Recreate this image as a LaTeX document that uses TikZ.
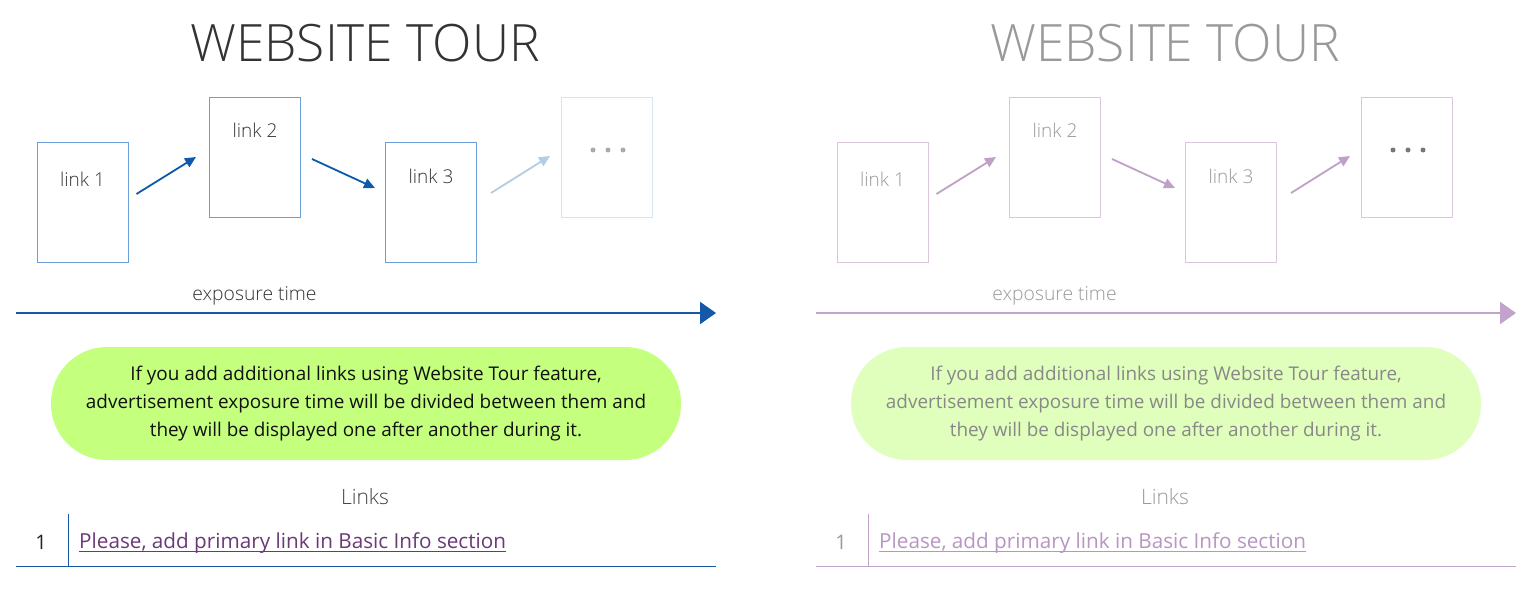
\documentclass[tikz,border=0pt]{standalone}
\usepackage{fontspec}
\setmainfont{Open Sans}
\newfontfamily\lightfont{Open Sans Light}
\usetikzlibrary{arrows.meta}

\tikzset{
  x=1pt, y=-1pt,
  ttl/.style={font=\lightfont\fontsize{51.5}{52}\selectfont, text=cTitle, anchor=base, inner sep=0pt},
  linkbox/.style={draw=cBox, line width=1pt, minimum width=91pt, minimum height=120pt, inner sep=0pt},
  dotsbox/.style={draw=cDotsBox, line width=1pt, minimum width=91pt, minimum height=120pt, inner sep=0pt},
  boxlbl/.style={font=\lightfont\fontsize{19}{19}\selectfont, text=cLbl, anchor=base, inner sep=0pt},
  stepArrow/.style={draw=cArr, line width=1.8pt, -{Triangle[length=11pt,width=10pt]}},
  faintArrow/.style={draw=cArr3, line width=1.8pt, -{Triangle[length=11pt,width=10pt]}},
  timeArrow/.style={draw=cTime, line width=2.2pt, -{Triangle[length=16pt,width=22pt]}},
  timelbl/.style={font=\lightfont\fontsize{19.3}{19}\selectfont, text=cLbl, anchor=base, inner sep=0pt},
  greenbox/.style={fill=cGreen, rounded corners=56pt, minimum width=630pt, minimum height=113pt,
     align=center, font=\fontsize{18.9}{28}\selectfont, text=cGText, inner sep=0pt},
  linkshead/.style={font=\lightfont\fontsize{21}{21}\selectfont, text=cLinks, anchor=base, inner sep=0pt},
  rownum/.style={font=\fontsize{20}{20}\selectfont, text=cNum, anchor=base, inner sep=0pt},
  rowlink/.style={font=\fontsize{20.7}{20}\selectfont, text=cLink, anchor=base west, inner sep=0pt},
  tableline/.style={draw=cTime, line width=1pt},
  dotmark/.style={circle, fill=cDots, minimum size=5pt, inner sep=0pt}
}

\newcommand\tourpanel[2]{%
\begin{scope}[shift={(#2,0)}]
  \node[ttl] (#1title) at (365,62) {WEBSITE TOUR};
  \node[linkbox] (#1b1) at (82.5,202) {};
  \node[linkbox] (#1b2) at (255,157) {};
  \node[linkbox] (#1b3) at (431,202) {};
  \node[dotsbox] (#1b4) at (607,157) {};
  \node[boxlbl] (#1l1) at ([yshift=-45pt]#1b1.north) {link 1};
  \node[boxlbl] (#1l2) at ([yshift=-41pt]#1b2.north) {link 2};
  \node[boxlbl] (#1l3) at ([yshift=-42pt]#1b3.north) {link 3};
  \node[dotmark] (#1d1) at (593,150) {};
  \node[dotmark] (#1d2) at (608,150) {};
  \node[dotmark] (#1d3) at (623,150) {};
  \draw[stepArrow] ([xshift=8pt,yshift=8pt]#1b1.east) -- ([xshift=-13pt]#1b2.west);
  \draw[stepArrow] ([xshift=11pt,yshift=-2pt]#1b2.east) -- ([xshift=-10pt,yshift=14pt]#1b3.west);
  \draw[faintArrow] ([xshift=14pt,yshift=9pt]#1b3.east) -- ([xshift=-11pt,yshift=1pt]#1b4.west);
  \node[timelbl] (#1tl) at (254.5,300) {exposure time};
  \coordinate (#1t0) at (16,313);
  \coordinate (#1t1) at (716,313);
  \draw[timeArrow] (#1t0) -- (#1t1);
  \node[greenbox] (#1g) at (366,403.5) {If you add additional links using Website Tour feature,\\advertisement exposure time will be divided between them and\\they will be displayed one after another during it.};
  \node[linkshead] (#1lh) at (365,504) {Links};
  \node[rownum] (#1n) at (41,549) {1};
  \node[rowlink] (#1lk) at (79,548) {Please, add primary link in Basic Info section};
  \draw[draw=cLink, line width=1pt] ([yshift=-3.5pt]#1lk.base west) -- ([yshift=-3.5pt]#1lk.base east);
  \coordinate (#1v0) at (68,514);
  \coordinate (#1v1) at (68,566);
  \coordinate (#1h0) at (16,566);
  \coordinate (#1h1) at (716,566);
  \draw[tableline] (#1v0) -- (#1v1);
  \draw[tableline] (#1h0) -- (#1h1);
\end{scope}}

\begin{document}
\begin{tikzpicture}
\useasboundingbox[fill=white] (0,0) rectangle (1536,594);
{%
  \definecolor{cTitle}{HTML}{333333}
  \definecolor{cBox}{HTML}{6A9FD8}
  \definecolor{cDotsBox}{HTML}{D8E4F2}
  \definecolor{cLbl}{HTML}{333333}
  \definecolor{cDots}{HTML}{AAAAAA}
  \definecolor{cArr}{HTML}{0D5AAA}
  \definecolor{cArr3}{HTML}{B3CDE6}
  \definecolor{cTime}{HTML}{1558A8}
  \definecolor{cGreen}{HTML}{C4FF7E}
  \definecolor{cGText}{HTML}{111111}
  \definecolor{cLinks}{HTML}{444444}
  \definecolor{cNum}{HTML}{222222}
  \definecolor{cLink}{HTML}{6A3A78}
  \tourpanel{L}{0}
}
{%
  \definecolor{cTitle}{HTML}{999999}
  \definecolor{cBox}{HTML}{DCC6DC}
  \definecolor{cDotsBox}{HTML}{DCC6DC}
  \definecolor{cLbl}{HTML}{999999}
  \definecolor{cDots}{HTML}{777777}
  \definecolor{cArr}{HTML}{BFA0C6}
  \definecolor{cArr3}{HTML}{BFA0C6}
  \definecolor{cTime}{HTML}{C3A3CB}
  \definecolor{cGreen}{HTML}{E0FFBD}
  \definecolor{cGText}{HTML}{888888}
  \definecolor{cLinks}{HTML}{999999}
  \definecolor{cNum}{HTML}{999999}
  \definecolor{cLink}{HTML}{B896C2}
  \tourpanel{R}{800}
}
\end{tikzpicture}
\end{document}
